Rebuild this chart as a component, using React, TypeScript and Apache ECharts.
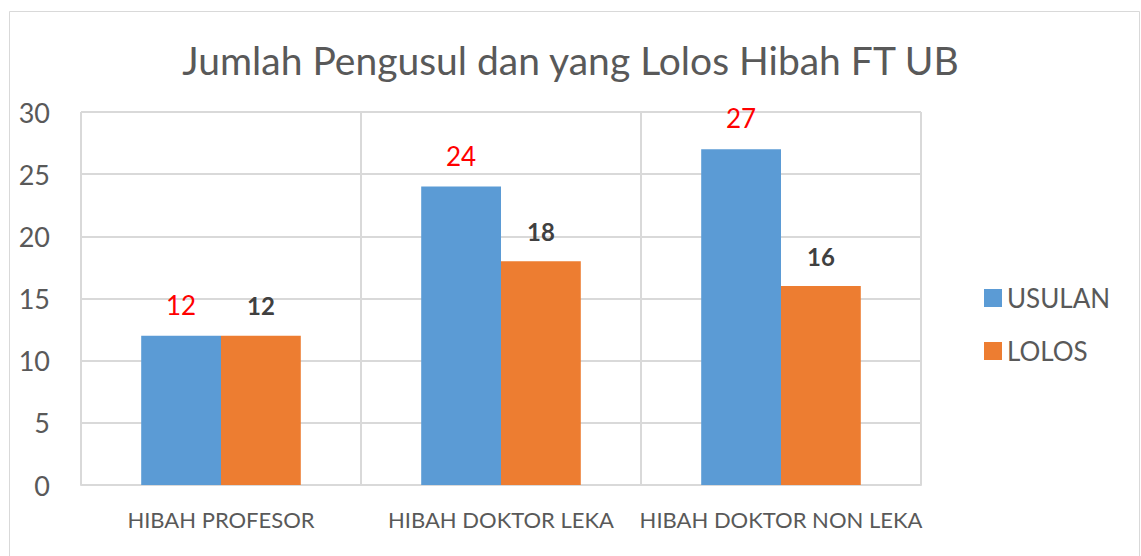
import React, { useEffect, useRef } from "react";
import * as echarts from "echarts";

const categories = ["HIBAH PROFESOR", "HIBAH DOKTOR LEKA", "HIBAH DOKTOR NON LEKA"];
const usulan = [12, 24, 27];
const lolos = [12, 18, 16];
const seriesNames = ["USULAN", "LOLOS"];
const titleText = "Jumlah Pengusul dan yang Lolos Hibah FT UB";

const FONT = "Lato, 'Open Sans', sans-serif";

export default function App() {
  const ref = useRef<HTMLDivElement>(null);
  useEffect(() => {
    if (!ref.current) return;
    const chart = echarts.init(ref.current, null, { renderer: "svg" });
    chart.setOption({
      animation: false,
      backgroundColor: "#ffffff",
      textStyle: { fontFamily: FONT },
      title: {
        text: titleText,
        left: "center",
        top: 35,
        textStyle: { fontSize: 39, fontWeight: "normal", color: "#595959", fontFamily: FONT },
      },
      graphic: [
        {
          type: "rect",
          shape: { x: 9.5, y: 11.5, width: 1130, height: 600 },
          style: { fill: "none", stroke: "#d9d9d9", lineWidth: 1 },
          silent: true,
        },
      ],
      legend: {
        orient: "vertical",
        left: 979,
        top: 280,
        itemWidth: 18,
        itemHeight: 18,
        itemGap: 27,
        icon: "rect",
        data: seriesNames,
        textStyle: { fontSize: 26, color: "#595959", fontFamily: FONT },
      },
      grid: { left: 81, right: 220, top: 112, bottom: 71, containLabel: false },
      xAxis: {
        type: "category",
        data: categories,
        axisLine: { show: true, lineStyle: { color: "#d9d9d9", width: 2 } },
        axisTick: { show: false },
        splitLine: { show: true, interval: 0, lineStyle: { color: "#d9d9d9", width: 2 } },
        axisLabel: { interval: 0, fontSize: 22, color: "#595959", margin: 23, fontFamily: FONT },
      },
      yAxis: {
        type: "value",
        min: 0,
        max: 30,
        interval: 5,
        axisLine: { show: false },
        axisTick: { show: false },
        splitLine: { show: true, lineStyle: { color: "#d9d9d9", width: 2 } },
        axisLabel: { fontSize: 27, color: "#595959", margin: 31, fontFamily: FONT },
      },
      series: [
        {
          name: seriesNames[0],
          type: "bar",
          data: usulan,
          barGap: "0%",
          barCategoryGap: "43%",
          itemStyle: { color: "#5b9bd5" },
          label: {
            show: true,
            position: "top",
            distance: 18,
            color: "#ff0000",
            fontSize: 26,
            fontFamily: FONT,
          },
        },
        {
          name: seriesNames[1],
          type: "bar",
          data: lolos,
          barGap: "0%",
          barCategoryGap: "43%",
          itemStyle: { color: "#ed7d31" },
          label: {
            show: true,
            position: "top",
            distance: 18,
            color: "#404040",
            fontSize: 24,
            fontWeight: "bold",
            fontFamily: FONT,
          },
        },
      ],
    });
    return () => chart.dispose();
  }, []);
  return (
    <div
      ref={ref}
      style={{ position: "absolute", left: 0, top: 0, width: 1141, height: 556 }}
    />
  );
}
